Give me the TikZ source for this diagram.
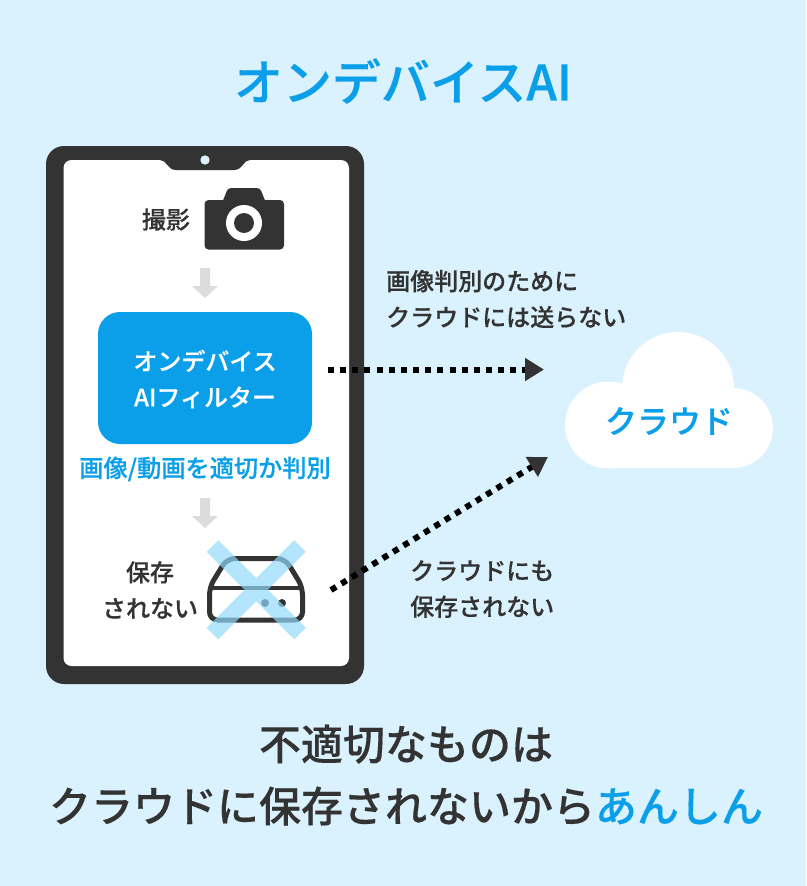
\documentclass[tikz,border=0pt]{standalone}
\usepackage{fontspec}
\setmainfont{Noto Sans CJK JP Medium}[FakeBold=0.35]
\usetikzlibrary{arrows.meta}
\definecolor{bgc}{HTML}{DAF2FD}
\definecolor{bluec}{HTML}{0A9FE8}
\definecolor{darkc}{HTML}{333333}
\definecolor{greyc}{HTML}{DCDCDC}
\definecolor{crossc}{HTML}{91DBFB}
\tikzset{
  txt/.style={text=darkc,font=\fontsize{24}{36}\selectfont,inner sep=0pt,align=center},
  bluetxt/.style={txt,text=bluec},
  bigtxt/.style={text=darkc,font=\fontsize{42}{62}\selectfont,inner sep=0pt,align=center},
  dotline/.style={draw=black,line width=6pt,dash pattern=on 6pt off 6.15pt,
    -{Triangle[length=19pt,width=22pt,color=darkc]}},
  downarrow/.style={fill=greyc,draw=none},
}
\begin{document}
\begin{tikzpicture}[x=1pt,y=-1pt]
\useasboundingbox (0,0) rectangle (806,886);
\fill[bgc] (0,0) rectangle (806,886);
% title
\node[bluetxt,font=\fontsize{49}{60}\selectfont] (title) at (403,81) {オンデバイスAI};
% tablet
\fill[darkc,rounded corners=18pt] (46,146) rectangle (364,684);
\fill[white,rounded corners=8pt] (63.5,160) rectangle (349,666);
\fill[darkc] (160,160) .. controls (167,160) and (167,170) .. (176,170) -- (234,170) .. controls (243,170) and (243,160) .. (250,160) -- cycle;
\fill[bgc] (205,160) circle (4.7);
% camera
\node[txt] (shoot) at (166,219.5) {撮影};
\fill[darkc,rounded corners=4pt] (204.5,200) rectangle (284,249.5);
\fill[darkc,rounded corners=3pt] (222,203) -- (228,188) -- (260,188) -- (266,203) -- cycle;
\fill[white] (244,223) circle (18);
\fill[darkc] (244,223) circle (10);
% arrow 1
\fill[downarrow] (200,268) -- (210,268) -- (210,286) -- (218,286) -- (205,298) -- (192,286) -- (200,286) -- cycle;
% filter
\node[fill=bluec,rounded corners=22pt,minimum width=214pt,minimum height=132pt,inner sep=0pt] (filter) at (205,378) {};
\node[txt,text=white] (filtertxt) at (205,379) {オンデバイス\\AIフィルター};
\node[bluetxt,font=\fontsize{24.2}{36}\selectfont] (judge) at (205,469) {画像/動画を適切か判別};
% arrow 2
\fill[downarrow] (200,498) -- (210,498) -- (210,516) -- (218,516) -- (205,528) -- (192,516) -- (200,516) -- cycle;
% disk
\node[txt] (save) at (150,590) {保存\\されない};
\draw[darkc,line width=5pt,rounded corners=8pt,line join=round] (227,558.5) -- (285,558.5) -- (302.5,587) -- (302.5,620) -- (209.5,620) -- (209.5,587) -- cycle;
\draw[darkc,line width=3.5pt] (209.5,588) -- (302.5,588);
\fill[darkc] (265,603) circle (4);
\fill[darkc] (282,603) circle (4);
\draw[crossc,opacity=.69,line width=16.5pt] (212.5,546) -- (300,633.5) (300,546) -- (212.5,633.5);
% cloud
\fill[white] (608.5,425) circle (43.5);
\fill[white] (733,428) circle (40);
\fill[white] (678,388) circle (56);
\fill[white] (608.5,400) rectangle (733,468);
\node[bluetxt,font=\fontsize{32}{40}\selectfont] (cloud) at (669,421) {クラウド};
% connectors
\coordinate (a1) at (328,369.5);
\coordinate (a2) at (544,369.5);
\coordinate (b1) at (331,590);
\coordinate (b2) at (548,457);
\draw[dotline] (a1) -- (a2);
\draw[dotline] (b1) -- (b2);
% notes
\node[txt,align=left,anchor=west] (note1) at (386,299) {画像判別のために\\クラウドには送らない};
\node[txt,align=left,anchor=west] (note2) at (410,589) {クラウドにも\\保存されない};
% bottom
\node[bigtxt] (bottom) at (406,775) {不適切なものは\\クラウドに保存されないから\textcolor{bluec}{あんしん}};
\end{tikzpicture}
\end{document}
